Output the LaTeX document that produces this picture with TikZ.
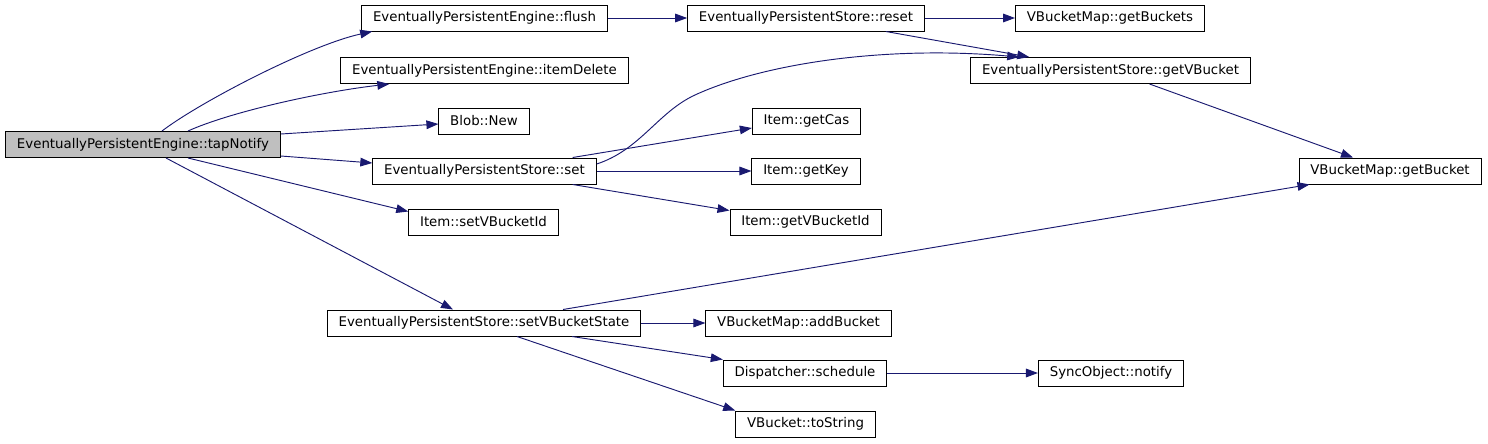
\documentclass[tikz,border=0pt]{standalone}
\usepackage{fontspec}
\setmainfont{DejaVu Sans}
\usepackage{xcolor}
\usepackage{tikz}
\usetikzlibrary{arrows.meta, positioning, calc}
\definecolor{edgeblue}{RGB}{25, 25, 112}
\definecolor{rootgray}{RGB}{191, 191, 191}

\begin{document}
\begin{tikzpicture}[x=0.75pt, y=-0.75pt,
    font=\fontsize{10}{12}\selectfont,
    fn/.style={draw=black, line width=0.75pt, minimum height=19.5pt, inner xsep=8.5pt, inner ysep=0pt, fill=white},
    root/.style={fn, fill=rootgray},
    call/.style={draw=edgeblue, line width=0.7pt, -{Triangle[length=9pt, width=6.5pt]}}]
    \useasboundingbox (0,0) rectangle (1488,443);

    % Caller
    \node[root] (tapnotify) at (143,144.5) {EventuallyPersistentEngine::tapNotify};

    % First column of callees
    \node[fn] (flush) at (484.5,18) {EventuallyPersistentEngine::flush};
    \node[fn] (itemdelete) at (484.5,70.5) {EventuallyPersistentEngine::itemDelete};
    \node[fn] (blobnew) at (484,121) {Blob::New};
    \node[fn] (storeset) at (484.5,171) {EventuallyPersistentStore::set};
    \node[fn] (setvbid) at (483.5,222) {Item::setVBucketId};
    \node[fn] (setvbstate) at (484,323) {EventuallyPersistentStore::setVBucketState};

    % Second column
    \node[fn] (storereset) at (806,18) {EventuallyPersistentStore::reset};
    \node[fn] (getcas) at (806.5,121) {Item::getCas};
    \node[fn] (getkey) at (806,171) {Item::getKey};
    \node[fn] (getvbid) at (805.5,222) {Item::getVBucketId};
    \node[fn] (addbucket) at (798.5,323) {VBucketMap::addBucket};
    \node[fn] (schedule) at (805,373) {Dispatcher::schedule};
    \node[fn] (tostring) at (805.5,424) {VBucket::toString};

    % Third and fourth columns
    \node[fn] (getbuckets) at (1110,18) {VBucketMap::getBuckets};
    \node[fn] (getvbucket) at (1110.5,70.5) {EventuallyPersistentStore::getVBucket};
    \node[fn] (syncnotify) at (1111,373) {SyncObject::notify};
    \node[fn] (getbucket) at (1390,171) {VBucketMap::getBucket};

    % Calls from tapNotify
    \draw[call] ($(tapnotify.north)+(19,0)$) .. controls (200,102) and (310,45) .. ($(flush.south west)+(11,0)$);
    \draw[call] ($(tapnotify.north)+(45,0)$) .. controls (230,112) and (320,92) .. ($(itemdelete.south west)+(49,0)$);
    \draw[call] ($(tapnotify.north east)+(0,3)$) -- ($(blobnew.west)+(0,3)$);
    \draw[call] ($(tapnotify.south east)+(0,-2)$) -- ($(storeset.west)+(0,-8)$);
    \draw[call] ($(tapnotify.south)+(45,0)$) -- ($(setvbid.north west)+(0,3)$);
    \draw[call] ($(tapnotify.south)+(23,0)$) -- ($(setvbstate.north)+(-31,0)$);

    % Calls further down
    \draw[call] (flush) -- (storereset);
    \draw[call] (storereset) -- (getbuckets);
    \draw[call] ($(storereset.south east)+(-39,0)$) -- ($(getvbucket.north west)+(59,0)$);
    \draw[call] ($(storeset.east)+(0,-7)$) .. controls (640,150) and (658,112) .. (695,95)
        .. controls (760,65) and (880,45) .. ($(getvbucket.north west)+(49,0)$);
    \draw[call] ($(storeset.north east)+(-24,0)$) -- ($(getcas.west)+(0,7)$);
    \draw[call] (storeset) -- (getkey);
    \draw[call] ($(storeset.south east)+(-24,0)$) -- ($(getvbid.north west)+(0,2)$);
    \draw[call] ($(getvbucket.south)+(39,0)$) -- ($(getbucket.north)+(-37,0)$);
    \draw[call] ($(setvbstate.north)+(79,0)$) -- ($(getbucket.south west)+(11,0)$);
    \draw[call] (setvbstate) -- (addbucket);
    \draw[call] ($(setvbstate.south)+(88,0)$) -- (schedule.north west);
    \draw[call] ($(setvbstate.south)+(33,0)$) -- (tostring.north west);
    \draw[call] (schedule) -- (syncnotify);
\end{tikzpicture}
\end{document}
